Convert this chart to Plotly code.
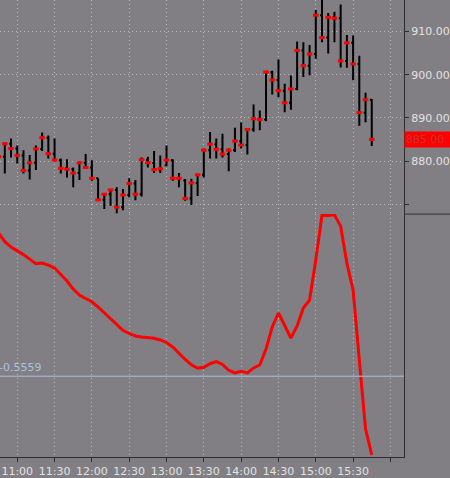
import pandas as pd
import plotly.graph_objects as go

# 5-minute bars, 10:45 to 15:45
times = pd.date_range("2024-03-15 10:45", periods=61, freq="5min")

opens = [
    880.0, 881.0, 884.0, 882.9, 881.3, 877.8, 879.6, 882.8, 885.4, 881.7,
    880.2, 878.3, 878.1, 877.2, 879.6, 878.5, 876.0, 871.0, 872.3, 873.3,
    869.3, 872.1, 874.8, 872.3, 880.3, 879.6, 878.0, 879.0, 880.2, 876.0,
    875.5, 871.3, 874.9, 876.8, 882.5, 883.9, 882.7, 881.6, 882.5, 884.6,
    883.7, 887.3, 889.8, 889.6, 900.6, 898.8, 896.3, 893.5, 896.7, 905.6,
    902.1, 904.8, 913.8, 908.6, 913.3, 913.1, 903.2, 907.4, 902.5, 891.2,
    894.2,
]
highs = [
    883.0, 884.3, 885.2, 883.6, 882.5, 881.4, 883.6, 886.6, 885.9, 885.2,
    880.6, 880.4, 878.5, 879.9, 881.6, 880.2, 876.0, 872.3, 873.5, 873.9,
    873.5, 876.0, 875.6, 880.8, 881.0, 882.3, 881.3, 883.6, 880.4, 877.2,
    875.8, 875.9, 876.9, 882.9, 886.7, 885.2, 886.3, 882.9, 887.7, 888.9,
    887.5, 893.1, 891.7, 900.9, 900.9, 903.5, 897.9, 899.8, 907.7, 907.5,
    906.9, 915.0, 918.0, 914.3, 914.6, 916.3, 909.2, 909.1, 904.4, 895.8,
    894.4,
]
lows = [
    879.5, 877.1, 880.8, 879.4, 877.1, 875.7, 877.9, 882.3, 880.6, 880.2,
    877.1, 876.2, 873.9, 875.6, 878.4, 875.4, 870.8, 868.9, 869.6, 867.9,
    868.6, 871.6, 870.9, 871.8, 878.5, 877.2, 877.2, 878.8, 875.4, 873.9,
    870.8, 869.8, 871.9, 876.2, 880.6, 880.6, 880.8, 877.6, 882.1, 882.9,
    881.5, 886.8, 887.1, 889.2, 895.4, 894.8, 891.3, 891.9, 896.4, 899.5,
    899.9, 903.7, 907.5, 904.9, 907.5, 901.7, 901.6, 898.7, 888.2, 889.0,
    883.5,
]
closes = [
    881.0, 884.0, 882.9, 881.3, 877.8, 879.6, 882.8, 885.4, 881.7, 880.2,
    878.3, 878.1, 877.2, 879.6, 878.5, 876.0, 871.0, 872.3, 873.3, 869.3,
    872.1, 874.8, 872.3, 880.3, 879.6, 878.0, 878.2, 880.2, 876.0, 876.0,
    871.3, 874.9, 876.8, 882.5, 883.9, 882.7, 881.6, 882.5, 884.6, 883.7,
    887.3, 889.8, 889.6, 900.6, 898.8, 896.3, 893.5, 896.7, 905.6, 902.1,
    904.8, 913.8, 908.6, 913.3, 913.1, 903.2, 907.4, 902.5, 891.2, 894.2,
    885.0,
]
indicator = [
    0.877, 0.792, 0.737, 0.702, 0.662, 0.617, 0.572, 0.577, 0.557, 0.527,
    0.467, 0.397, 0.317, 0.257, 0.222, 0.190, 0.137, 0.077, 0.020, -0.033,
    -0.096, -0.128, -0.153, -0.163, -0.166, -0.176, -0.193, -0.218, -0.263, -0.328,
    -0.388, -0.441, -0.476, -0.466, -0.431, -0.410, -0.438, -0.496, -0.523, -0.506,
    -0.523, -0.473, -0.443, -0.283, -0.063, 0.077, -0.048, -0.173, -0.053, 0.127,
    0.207, 0.607, 1.057, 1.054, 1.060, 0.947, 0.577, 0.307, -0.393, -1.083,
    -1.343,
]
level = -0.5559
last_price = 885.00

price_ticks = [870, 880, 890, 900, 910]
price_labels = ["", "880.00", "890.00", "900.00", "910.00"]
time_ticks = ["11:00", "11:30", "12:00", "12:30", "13:00", "13:30",
              "14:00", "14:30", "15:00", "15:30", "16:00"]
time_labels = time_ticks[:-1] + [""]

BG = "#817f84"
AXIS = "#2e2e2e"
GRID = "#b9b8bd"
TEXT = "#e2e2e2"
FONT = "DejaVu Sans"

tick_dates = ["2024-03-15 " + t for t in time_ticks]
x_range = ["2024-03-15 10:46:08", "2024-03-15 16:10:55"]
split = 1 - 215 / 459

fig = go.Figure()

fig.add_trace(
    go.Ohlc(
        x=times,
        open=opens,
        high=highs,
        low=lows,
        close=closes,
        increasing=dict(line=dict(color="#000000", width=2)),
        decreasing=dict(line=dict(color="#000000", width=2)),
        tickwidth=0.3,
        xaxis="x2",
        yaxis="y",
        hoverinfo="skip",
    )
)

# red close marks
fig.add_trace(
    go.Scatter(
        x=times,
        y=closes,
        mode="markers",
        marker=dict(symbol="line-ew", size=4, line=dict(color="#ff0000", width=3)),
        xaxis="x2",
        yaxis="y",
        hoverinfo="skip",
    )
)

fig.add_trace(
    go.Scatter(
        x=times,
        y=indicator,
        mode="lines",
        line=dict(color="#ff0000", width=3),
        xaxis="x",
        yaxis="y2",
        hoverinfo="skip",
    )
)

fig.add_shape(
    type="line", xref="paper", yref="y2", x0=0, x1=1, y0=level, y1=level,
    line=dict(color="#a9c2dc", width=1),
)
fig.add_shape(
    type="line", xref="paper", yref="paper", x0=1, x1=1.2, y0=split, y1=split,
    line=dict(color=AXIS, width=1),
)

fig.add_annotation(
    xref="paper", x=1, xanchor="left", yref="y", y=last_price,
    text="885.00", showarrow=False, align="left", width=50, height=13,
    bgcolor="#ff0000", borderpad=1,
    font=dict(family=FONT, size=11, color="#c83232"),
)
fig.add_annotation(
    xref="paper", x=0, xanchor="left", xshift=-3, yref="y2", y=level,
    yanchor="bottom", text="-0.5559", showarrow=False,
    font=dict(family=FONT, size=11, color="#a9c2dc"),
)

grid = dict(showgrid=True, gridcolor=GRID, griddash="1px,3px", gridwidth=1, zeroline=False)

fig.update_layout(
    width=450,
    height=478,
    margin=dict(l=0, r=45, t=0, b=19, pad=0),
    paper_bgcolor=BG,
    plot_bgcolor=BG,
    showlegend=False,
    font=dict(family=FONT, size=11, color=TEXT),
    xaxis=dict(
        domain=[0, 1], anchor="y2", type="date", range=x_range,
        tickvals=tick_dates, ticktext=time_labels,
        ticks="outside", ticklen=4, tickcolor=AXIS,
        showline=True, linecolor=AXIS, linewidth=1,
        tickfont=dict(family=FONT, size=11, color=TEXT),
        rangeslider=dict(visible=False),
        **grid,
    ),
    xaxis2=dict(
        domain=[0, 1], anchor="y", type="date", matches="x",
        tickvals=tick_dates, showticklabels=False, ticks="",
        showline=False, rangeslider=dict(visible=False),
        **grid,
    ),
    yaxis=dict(
        domain=[split, 1], anchor="x2", side="right",
        range=[867.70, 917.32],
        tickvals=price_ticks, ticktext=price_labels,
        ticks="outside", ticklen=4, tickcolor=AXIS,
        showline=True, linecolor=AXIS, linewidth=1,
        tickfont=dict(family=FONT, size=11, color=TEXT),
        **grid,
    ),
    yaxis2=dict(
        domain=[0, split], anchor="x", side="right",
        range=[-1.365, 1.068],
        showticklabels=False, ticks="", showgrid=False, zeroline=False,
        showline=True, linecolor=AXIS, linewidth=1,
    ),
)

# page body has a default margin; drop it so the chart sits at the corner
fig.write_html(
    "out.html",
    config={"displayModeBar": False},
    post_script="document.body.style.margin='0';document.body.style.background='%s';" % BG,
)
